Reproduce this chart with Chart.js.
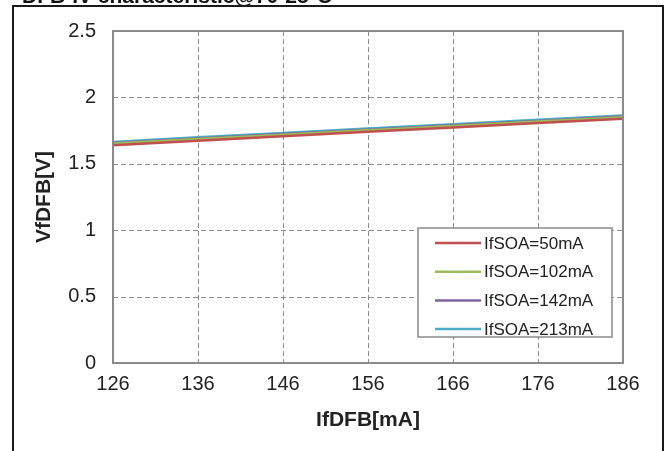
<!DOCTYPE html>
<html>
<head>
<meta charset="utf-8">
<script src="https://cdn.jsdelivr.net/npm/chart.js@4/dist/chart.umd.min.js"></script>
<style>
  html, body { margin: 0; padding: 0; background: #fff; }
  #wrap { width: 669px; height: 451px; }
</style>
</head>
<body>
<div id="wrap"><canvas id="vfChart" width="669" height="451"></canvas></div>
<script>
// IfDFB sweep (mA) and measured VfDFB (V) for each SOA current
const ifDfb = [126, 136, 146, 156, 166, 176, 186];
const vf50 = [1.640, 1.674, 1.708, 1.741, 1.774, 1.807, 1.840];
const vf102 = [1.652, 1.686, 1.719, 1.752, 1.785, 1.818, 1.851];
const vf142 = [1.657, 1.691, 1.724, 1.757, 1.790, 1.823, 1.856];
const vf213 = [1.665, 1.699, 1.732, 1.765, 1.798, 1.831, 1.864];
const seriesNames = ["IfSOA=50mA", "IfSOA=102mA", "IfSOA=142mA", "IfSOA=213mA"];
const seriesColors = ["#c0504d", "#9bbb59", "#8064a2", "#4bacc6"];
const yTicks = [0, 0.5, 1, 1.5, 2, 2.5];

const FONT = "'Liberation Sans', Arial, sans-serif";

function toPoints(vals) {
    return ifDfb.map((x, i) => ({ x: x, y: vals[i] }));
}

const datasets = [vf50, vf102, vf142, vf213].map((vals, i) => ({
    label: seriesNames[i],
    data: toPoints(vals),
    borderColor: seriesColors[i],
    backgroundColor: seriesColors[i],
    borderWidth: 2.5,
    pointRadius: 0,
    tension: 0,
}));

// outer frame, cut-off heading, dashed grid, plot box and legend
const framePlugin = {
    id: "frame",
    beforeDraw(chart) {
        const c = chart.ctx;
        c.save();
        c.fillStyle = "#fff";
        c.fillRect(0, 0, chart.width, chart.height);
        c.fillStyle = "#111";
        c.font = "bold 21px " + FONT;
        c.textBaseline = "alphabetic";
        c.fillText("DFB-IV characteristic@70-25°C", 22, 3);
        c.strokeStyle = "#1a1a1a";
        c.lineWidth = 2;
        c.strokeRect(13, 6, 650, 460);
        c.restore();
    },
    beforeDatasetsDraw(chart) {
        const c = chart.ctx;
        const a = chart.chartArea;
        const xs = chart.scales.x, ys = chart.scales.y;
        c.save();
        c.strokeStyle = "#8c8c8c";
        c.lineWidth = 1;
        c.setLineDash([5, 3]);
        c.beginPath();
        ifDfb.forEach(v => {
            const px = Math.round(xs.getPixelForValue(v)) + 0.5;
            c.moveTo(px, a.top);
            c.lineTo(px, a.bottom);
        });
        yTicks.forEach(v => {
            const py = Math.round(ys.getPixelForValue(v)) + 0.5;
            c.moveTo(a.left, py);
            c.lineTo(a.right, py);
        });
        c.stroke();
        c.restore();
    },
    afterDatasetsDraw(chart) {
        const c = chart.ctx;
        const a = chart.chartArea;
        c.save();
        c.strokeStyle = "#8a8a8a";
        c.lineWidth = 2;
        c.strokeRect(a.left, a.top, a.right - a.left, a.bottom - a.top);

        // legend box in the lower right of the plot
        const bx = a.right - 205, by = a.bottom - 135, bw = 194, bh = 109;
        c.fillStyle = "#fff";
        c.fillRect(bx, by, bw, bh);
        c.strokeStyle = "#8a8a8a";
        c.lineWidth = 1.5;
        c.strokeRect(bx, by, bw, bh);
        c.font = "17px " + FONT;
        c.textBaseline = "middle";
        chart.data.datasets.forEach((ds, i) => {
            const ry = by + 15 + i * 28.7;
            c.strokeStyle = ds.borderColor;
            c.lineWidth = 2.5;
            c.beginPath();
            c.moveTo(bx + 17, ry);
            c.lineTo(bx + 63, ry);
            c.stroke();
            c.fillStyle = "#222";
            c.fillText(ds.label, bx + 66, ry + 1);
        });
        c.restore();
    }
};

new Chart(document.getElementById("vfChart"), {
    type: "line",
    data: { datasets: datasets },
    options: {
        responsive: false,
        animation: false,
        layout: { padding: { left: 0, top: 31, right: 46, bottom: 0 } },
        plugins: {
            legend: { display: false },
            tooltip: { enabled: false },
        },
        scales: {
            x: {
                type: "linear",
                min: 126,
                max: 186,
                afterBuildTicks(scale) {
                    scale.ticks = ifDfb.map(v => ({ value: v }));
                },
                afterFit(scale) { scale.height = 88; },
                grid: { display: false, drawTicks: false },
                border: { display: false },
                ticks: {
                    color: "#222",
                    font: { family: FONT, size: 20 },
                    padding: 9,
                    maxRotation: 0,
                    callback: v => String(v),
                },
                title: {
                    display: true,
                    text: "IfDFB[mA]",
                    color: "#222",
                    font: { family: FONT, size: 21, weight: "bold" },
                    padding: { top: 0, bottom: 18 },
                },
            },
            y: {
                min: 0,
                max: 2.5,
                afterBuildTicks(scale) {
                    scale.ticks = yTicks.map(v => ({ value: v }));
                },
                afterFit(scale) { scale.width = 113; },
                grid: { display: false, drawTicks: false },
                border: { display: false },
                ticks: {
                    color: "#222",
                    font: { family: FONT, size: 20 },
                    padding: 17,
                    callback: v => String(v),
                },
                title: {
                    display: true,
                    text: "VfDFB[V]",
                    color: "#222",
                    font: { family: FONT, size: 21, weight: "bold" },
                    padding: { top: 32, bottom: 0 },
                },
            },
        },
    },
    plugins: [framePlugin],
});
</script>
</body>
</html>
